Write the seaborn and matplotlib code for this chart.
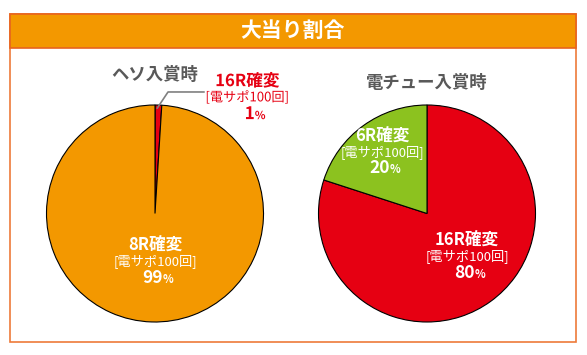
import matplotlib
matplotlib.use('Agg')
import matplotlib.pyplot as plt
import matplotlib.patches as mpatches
import matplotlib.patheffects as pe
import seaborn as sns

sns.set_theme(style="white")
plt.rcParams['font.family'] = ['Noto Sans CJK JP', 'DejaVu Sans']

# Data
chart_title = '大当り割合'
pie_titles = ['ヘソ入賞時', '電チュー入賞時']
heso_labels = ['16R確変', '8R確変']
heso_values = [1, 99]
dench_labels = ['16R確変', '6R確変']
dench_values = [80, 20]
sub_label = '[電サポ100回]'

ORANGE = '#F39800'
RED = '#E60012'
GREEN = '#8CC21F'
GRAY = '#595959'

W, H = 587, 355
R = 108.5
fig = plt.figure(figsize=(W / 100, H / 100), dpi=100)


def px(x, y):
    # pixel coords (top-left origin) -> figure fraction
    return x / W, 1 - y / H


# outer frame and header band
frame = mpatches.Rectangle(px(9.5, 341.5), 566.5 / W, 328 / H, transform=fig.transFigure,
                           facecolor='none', edgecolor='#EE7A3A', linewidth=1.2, zorder=5)
fig.patches.append(frame)
header = mpatches.Rectangle(px(9.5, 48), 566.5 / W, 34.5 / H, transform=fig.transFigure,
                            facecolor=ORANGE, edgecolor='#E8641E', linewidth=1.2, zorder=5)
fig.patches.append(header)
fig.text(*px(292, 30), chart_title, color='white', fontsize=15, fontweight='bold',
         ha='center', va='center', zorder=6)


def pie_axes(cx, cy):
    ax = fig.add_axes([(cx - R) / W, (H - cy - R) / H, 2 * R / W, 2 * R / H])
    ax.axis('off')
    return ax


def fix_limits(ax):
    ax.set_xlim(-1, 1)
    ax.set_ylim(-1, 1)
    ax.set_aspect('equal')


def label(ax, x, y, name, value, color='white', stroke=False):
    effects = [pe.withStroke(linewidth=3, foreground='white')] if stroke else None
    kw = dict(color=color, transform=ax.transData, clip_on=False, path_effects=effects)
    ax.text(x, y + 0.15, name, fontsize=12, fontweight='bold', ha='center', va='center', **kw)
    ax.text(x, y, sub_label, fontsize=9.5, ha='center', va='center', **kw)
    base = y - 0.2
    ax.text(x + 0.07, base, str(value), fontsize=12.5, fontweight='bold',
            ha='right', va='baseline', **kw)
    ax.text(x + 0.07, base, '%', fontsize=8, fontweight='bold',
            ha='left', va='baseline', **kw)


wedge_kw = dict(edgecolor='black', linewidth=0.8)

# left pie
ax1 = pie_axes(155, 213.5)
ax1.pie(heso_values, colors=[RED, ORANGE], startangle=90, counterclock=False,
        radius=1, wedgeprops=wedge_kw)
fix_limits(ax1)
fig.text(*px(155, 75), pie_titles[0], color=GRAY, fontsize=12.5, fontweight='bold',
         ha='center', va='center')
label(ax1, 0.0, -0.44, heso_labels[1], heso_values[1])

# leader line for the small slice
ax1.plot([0.02, 0.12, 0.46], [0.97, 1.12, 1.12], color='#808080', lw=1.2, clip_on=False)
label(ax1, 0.85, 1.07, heso_labels[0], heso_values[0], color=RED, stroke=True)

# right pie
ax2 = pie_axes(427, 213.5)
ax2.pie(dench_values, colors=[RED, GREEN], startangle=90, counterclock=False,
        radius=1, wedgeprops=wedge_kw)
fix_limits(ax2)
fig.text(*px(427, 83), pie_titles[1], color=GRAY, fontsize=12.5, fontweight='bold',
         ha='center', va='center')
label(ax2, 0.37, -0.39, dench_labels[0], dench_values[0])
label(ax2, -0.41, 0.57, dench_labels[1], dench_values[1])

fig.savefig('out.png', dpi=100)
